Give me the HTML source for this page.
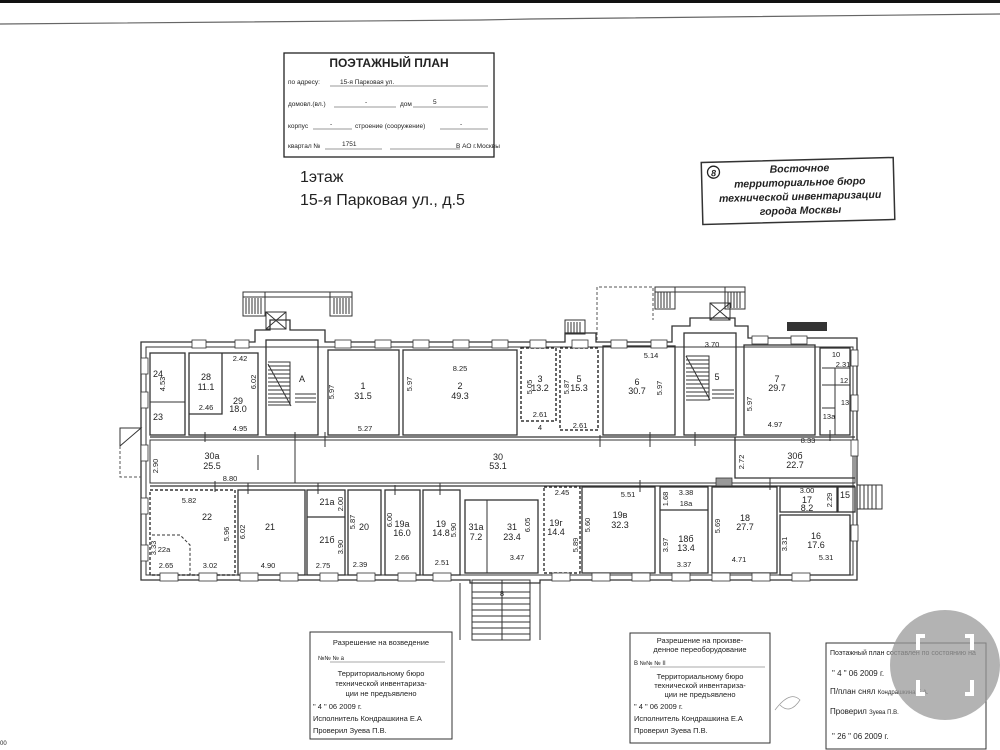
<!DOCTYPE html>
<html><head><meta charset="utf-8"><style>
html,body{margin:0;padding:0;background:#fff;width:1000px;height:750px;overflow:hidden}
svg{display:block}
text{font-family:"Liberation Sans",sans-serif;fill:#222}
.r{fill:none;stroke:#333;stroke-width:1.3}
.w{fill:none;stroke:#333;stroke-width:1}
.d{fill:none;stroke:#555;stroke-width:1;stroke-dasharray:3 2}
.n{font-size:9px;text-anchor:middle}
.s{font-size:7.5px;text-anchor:middle}
.st{font-size:7.5px}
</style></head><body>
<svg width="1000" height="750" viewBox="0 0 1000 750" xmlns="http://www.w3.org/2000/svg">
<rect x="0" y="0" width="1000" height="3" fill="#111"/>
<path d="M0 24 L480 20 L530 19 L1000 14" stroke="#666" stroke-width="1.2" fill="none"/>

<!-- header stamp -->
<rect x="284" y="53" width="210" height="104" fill="none" stroke="#222" stroke-width="1.3"/>
<text x="389" y="67" style="font-size:12px;text-anchor:middle;font-weight:bold">ПОЭТАЖНЫЙ ПЛАН</text>
<text x="288" y="84" class="st" style="font-size:6.5px">по адресу: <tspan x="340">15-я Парковая ул.</tspan></text>
<line x1="330" y1="86" x2="488" y2="86" stroke="#333" stroke-width=".6"/>
<text x="288" y="106" style="font-size:6.5px">домовл.(вл.)</text><text x="365" y="104" style="font-size:6.5px">-</text><text x="400" y="106" style="font-size:6.5px">дом</text><text x="433" y="104" style="font-size:6.5px">5</text>
<line x1="334" y1="107" x2="396" y2="107" stroke="#333" stroke-width=".6"/><line x1="413" y1="107" x2="488" y2="107" stroke="#333" stroke-width=".6"/>
<text x="288" y="128" style="font-size:6.5px">корпус</text><text x="330" y="126" style="font-size:6.5px">-</text><text x="355" y="128" style="font-size:6.5px">строение (сооружение)</text><text x="460" y="126" style="font-size:6.5px">-</text>
<line x1="313" y1="129" x2="352" y2="129" stroke="#333" stroke-width=".6"/><line x1="440" y1="129" x2="488" y2="129" stroke="#333" stroke-width=".6"/>
<text x="288" y="148" style="font-size:6.5px">квартал №</text><text x="342" y="146" style="font-size:6.5px">1751</text><text x="456" y="148" style="font-size:6.5px">В  АО г.Москвы</text>
<line x1="325" y1="149" x2="382" y2="149" stroke="#333" stroke-width=".6"/><line x1="390" y1="149" x2="460" y2="149" stroke="#333" stroke-width=".6"/>
<text x="300" y="182" style="font-size:16px">1этаж</text>
<text x="300" y="205" style="font-size:16px">15-я Парковая ул., д.5</text>

<!-- right stamp -->
<g transform="rotate(-1.5 797 190)">
<rect x="702" y="160" width="192" height="62" fill="none" stroke="#333" stroke-width="1.5"/>
<circle cx="714" cy="170" r="6" fill="none" stroke="#222" stroke-width="1.3"/>
<text x="714" y="174" style="font-size:9px;text-anchor:middle;font-weight:bold;font-style:italic">8</text>
<text x="800" y="172" style="font-size:10.5px;text-anchor:middle;font-weight:bold;font-style:italic">Восточное</text>
<text x="800" y="186" style="font-size:10.5px;text-anchor:middle;font-weight:bold;font-style:italic">территориальное бюро</text>
<text x="800" y="200" style="font-size:10.5px;text-anchor:middle;font-weight:bold;font-style:italic">технической инвентаризации</text>
<text x="800" y="214" style="font-size:10.5px;text-anchor:middle;font-weight:bold;font-style:italic">города Москвы</text>
</g>

<!-- building -->
<g>
<!-- outer walls -->
<path class="r" d="M141 342 H255 V330 H270 V320 H290 V330 H325 V342 H565 V333 H596 V342 H672 V326 H690 V318 H735 V326 H748 V338 H857 V580 H540 V583 H470 V580 H141 Z" stroke-width="1.6"/>
<path class="w" d="M146 347 H853 V575 H146 Z"/>
<!-- top stairs outside -->
<rect x="243" y="292" width="22" height="24" class="w"/><rect x="330" y="292" width="22" height="24" class="w"/>
<rect x="243" y="292" width="109" height="5" class="w"/>
<path class="w" d="M246 298 V314 M249 298 V314 M252 298 V314 M255 298 V314 M258 298 V314 M261 298 V314 M334 298 V314 M337 298 V314 M340 298 V314 M343 298 V314 M346 298 V314 M349 298 V314"/>
<rect x="266" y="312" width="20" height="17" class="w"/><path class="w" d="M266 312 L286 329 M286 312 L266 329"/>
<rect x="655" y="287" width="90" height="5" class="w"/>
<rect x="655" y="287" width="20" height="22" class="w"/><rect x="725" y="287" width="20" height="22" class="w"/>
<path class="w" d="M658 292 V308 M661 292 V308 M664 292 V308 M667 292 V308 M670 292 V308 M728 292 V308 M731 292 V308 M734 292 V308 M737 292 V308 M740 292 V308"/>
<rect x="710" y="303" width="20" height="17" class="w"/><path class="w" d="M710 303 L730 320 M730 303 L710 320"/>
<path class="d" d="M597 340 V287 H653 V320"/>
<rect x="565" y="320" width="20" height="14" class="w"/><path class="w" d="M568 322 V333 M571 322 V333 M574 322 V333 M577 322 V333 M580 322 V333"/>
<rect x="787" y="322" width="40" height="9" fill="#333"/>
<!-- left outside stair -->
<path class="w" d="M141 428 L120 446 V428 Z"/><path class="d" d="M120 446 V477 H141"/>
<!-- right outside stair -->
<rect x="857" y="485" width="25" height="24" class="w"/><path class="w" d="M860 485 V509 M864 485 V509 M868 485 V509 M872 485 V509 M876 485 V509"/>

<!-- top row rooms -->
<rect x="150" y="353" width="35" height="82" class="r"/><line x1="150" y1="402" x2="185" y2="402" class="w"/>
<rect x="189" y="353" width="69" height="82" class="r"/><path class="r" d="M222 353 V414 H189"/>
<rect x="266" y="340" width="52" height="95" class="r"/>
<path class="w" d="M268 362 H290 V405 H268 M268 366 H290 M268 370 H290 M268 374 H290 M268 378 H290 M268 382 H290 M268 386 H290 M268 390 H290 M268 394 H290 M268 398 H290 M268 402 H290 M268 364 L291 406 M295 394 H316 M295 398 H316 M295 402 H316"/>
<rect x="328" y="350" width="71" height="85" class="r"/>
<rect x="403" y="350" width="114" height="85" class="r"/>
<rect x="521" y="348" width="35" height="73" class="d" style="stroke:#333;stroke-width:1.5"/>
<rect x="560" y="348" width="38" height="82" class="d" style="stroke:#333;stroke-width:1.5"/>
<rect x="603" y="346" width="72" height="89" class="r"/>
<rect x="684" y="333" width="52" height="102" class="r"/>
<path class="w" d="M686 356 H709 V400 H686 M686 360 H709 M686 364 H709 M686 368 H709 M686 372 H709 M686 376 H709 M686 380 H709 M686 384 H709 M686 388 H709 M686 392 H709 M686 396 H709 M686 356 L710 400 M712 390 H734 M712 394 H734 M712 398 H734"/>
<rect x="744" y="345" width="71" height="90" class="r"/>
<rect x="820" y="348" width="30" height="87" class="r"/><path class="w" d="M822 368 H850 M835 368 V435 M822 385 H850 M822 408 H835"/>
<!-- corridor -->
<rect x="150" y="440" width="705" height="43" class="w"/>
<path class="r" d="M150 437 H855 M150 486 H855 M735 437 V478 H855"/>
<line x1="295" y1="442" x2="295" y2="483" class="w"/>
<!-- bottom row rooms -->
<rect x="150" y="490" width="85" height="85" class="d" style="stroke:#333;stroke-width:1.4"/>
<path class="d" d="M152 535 H180 L190 545 V575" style="stroke:#333"/>
<rect x="238" y="490" width="67" height="85" class="r"/>
<rect x="307" y="490" width="38" height="85" class="r"/><line x1="307" y1="517" x2="345" y2="517" class="r"/>
<rect x="348" y="490" width="33" height="85" class="r"/>
<rect x="385" y="490" width="35" height="85" class="r"/>
<rect x="423" y="490" width="37" height="85" class="r"/>
<rect x="465" y="500" width="73" height="73" class="r"/><line x1="487" y1="500" x2="487" y2="573" class="w"/>
<rect x="472" y="580" width="58" height="60" class="w"/>
<path class="w" d="M472 592 H530 M472 598 H530 M472 604 H530 M472 610 H530 M472 616 H530 M472 622 H530 M472 628 H530 M472 634 H530 M502 580 V640"/>
<path class="w" d="M460 583 V640 M540 583 V640"/>
<rect x="544" y="487" width="36" height="86" class="d" style="stroke:#333;stroke-width:1.4"/>
<rect x="582" y="487" width="73" height="86" class="r"/>
<rect x="660" y="487" width="48" height="86" class="r"/><line x1="660" y1="510" x2="708" y2="510" class="r"/>
<rect x="712" y="487" width="65" height="86" class="r"/>
<rect x="780" y="487" width="57" height="25" class="r"/>
<rect x="780" y="515" width="70" height="60" class="r"/>
<rect x="838" y="487" width="17" height="25" class="r"/>
<!-- windows -->
<g fill="#fff" stroke="#333" stroke-width=".8">
<rect x="192" y="340" width="14" height="8"/><rect x="235" y="340" width="14" height="8"/>
<rect x="335" y="340" width="16" height="8"/><rect x="375" y="340" width="16" height="8"/><rect x="413" y="340" width="16" height="8"/><rect x="453" y="340" width="16" height="8"/><rect x="492" y="340" width="16" height="8"/>
<rect x="530" y="340" width="16" height="8"/><rect x="572" y="340" width="16" height="8"/><rect x="611" y="340" width="16" height="8"/><rect x="651" y="340" width="16" height="8"/>
<rect x="752" y="336" width="16" height="8"/><rect x="791" y="336" width="16" height="8"/>
<rect x="160" y="573" width="18" height="8"/><rect x="199" y="573" width="18" height="8"/><rect x="240" y="573" width="18" height="8"/><rect x="280" y="573" width="18" height="8"/><rect x="320" y="573" width="18" height="8"/><rect x="357" y="573" width="18" height="8"/><rect x="398" y="573" width="18" height="8"/><rect x="433" y="573" width="18" height="8"/>
<rect x="552" y="573" width="18" height="8"/><rect x="592" y="573" width="18" height="8"/><rect x="632" y="573" width="18" height="8"/><rect x="672" y="573" width="18" height="8"/><rect x="712" y="573" width="18" height="8"/><rect x="752" y="573" width="18" height="8"/><rect x="792" y="573" width="18" height="8"/>
<rect x="141" y="358" width="7" height="16"/><rect x="141" y="392" width="7" height="16"/><rect x="141" y="445" width="7" height="16"/><rect x="141" y="498" width="7" height="16"/><rect x="141" y="545" width="7" height="16"/>
<rect x="851" y="350" width="7" height="16"/><rect x="851" y="395" width="7" height="16"/><rect x="851" y="440" width="7" height="16"/><rect x="851" y="525" width="7" height="16"/>
<rect x="716" y="478" width="16" height="8" fill="#999"/>
</g>
<!-- labels -->
<text class="n" x="158" y="377">24</text><text class="n" x="158" y="420">23</text>
<text class="n" x="206" y="380">28</text><text class="n" x="206" y="390">11.1</text><text class="n" x="238" y="404">29</text><text class="n" x="238" y="412">18.0</text>
<text class="s" x="240" y="361">2.42</text><text class="s" x="206" y="410">2.46</text><text class="s" x="240" y="431">4.95</text>
<text class="n" x="302" y="382">A</text>
<text class="n" x="363" y="389">1</text><text class="n" x="363" y="399">31.5</text><text class="s" x="365" y="431">5.27</text>
<text class="n" x="460" y="389">2</text><text class="n" x="460" y="399">49.3</text><text class="s" x="460" y="371">8.25</text>
<text class="n" x="540" y="382">3</text><text class="n" x="540" y="391">13.2</text><text class="s" x="540" y="417">2.61</text><text class="s" x="540" y="430">4</text>
<text class="n" x="579" y="382">5</text><text class="n" x="579" y="391">15.3</text><text class="s" x="580" y="428">2.61</text>
<text class="n" x="637" y="385">6</text><text class="n" x="637" y="394">30.7</text><text class="s" x="651" y="358">5.14</text>
<text class="s" x="712" y="347">3.70</text><text class="n" x="717" y="380">5</text>
<text class="n" x="777" y="382">7</text><text class="n" x="777" y="391">29.7</text><text class="s" x="775" y="427">4.97</text>
<text class="s" x="836" y="357">10</text><text class="s" x="843" y="367">2.31</text><text class="s" x="844" y="383">12</text><text class="s" x="845" y="405">13</text><text class="s" x="829" y="419">13a</text>
<text class="n" x="212" y="459">30a</text><text class="n" x="212" y="469">25.5</text><text class="s" x="230" y="481">8.80</text>
<text class="n" x="498" y="460">30</text><text class="n" x="498" y="469">53.1</text>
<text class="n" x="795" y="459">30б</text><text class="n" x="795" y="468">22.7</text><text class="s" x="808" y="443">8.33</text>
<text class="s" x="189" y="503">5.82</text><text class="n" x="207" y="520">22</text><text class="s" x="164" y="552">22a</text><text class="s" x="166" y="568">2.65</text><text class="s" x="210" y="568">3.02</text>
<text class="n" x="270" y="530">21</text><text class="s" x="268" y="568">4.90</text>
<text class="n" x="327" y="505">21a</text><text class="n" x="327" y="543">21б</text><text class="s" x="323" y="568">2.75</text>
<text class="n" x="364" y="530">20</text><text class="s" x="360" y="567">2.39</text>
<text class="n" x="402" y="527">19a</text><text class="n" x="402" y="536">16.0</text><text class="s" x="402" y="560">2.66</text>
<text class="n" x="441" y="527">19</text><text class="n" x="441" y="536">14.8</text><text class="s" x="442" y="565">2.51</text>
<text class="n" x="476" y="530">31a</text><text class="n" x="476" y="540">7.2</text><text class="n" x="512" y="530">31</text><text class="n" x="512" y="540">23.4</text><text class="s" x="517" y="560">3.47</text>
<text class="s" x="562" y="495">2.45</text><text class="n" x="556" y="526">19г</text><text class="n" x="556" y="535">14.4</text>
<text class="n" x="620" y="518">19в</text><text class="n" x="620" y="528">32.3</text><text class="s" x="628" y="497">5.51</text>
<text class="s" x="686" y="495">3.38</text><text class="s" x="686" y="506">18a</text><text class="n" x="686" y="542">18б</text><text class="n" x="686" y="551">13.4</text><text class="s" x="684" y="567">3.37</text>
<text class="n" x="745" y="521">18</text><text class="n" x="745" y="530">27.7</text><text class="s" x="739" y="562">4.71</text>
<text class="s" x="807" y="493">3.00</text><text class="n" x="807" y="503">17</text><text class="n" x="807" y="511">8.2</text><text class="n" x="845" y="498">15</text>
<text class="n" x="816" y="539">16</text><text class="n" x="816" y="548">17.6</text><text class="s" x="826" y="560">5.31</text>
<g class="s">
<text transform="translate(165 384) rotate(-90)">4.53</text><text transform="translate(256 382) rotate(-90)">6.02</text>
<text transform="translate(334 392) rotate(-90)">5.97</text><text transform="translate(412 384) rotate(-90)">5.97</text>
<text transform="translate(532 387) rotate(-90)">5.05</text><text transform="translate(569 387) rotate(-90)">5.87</text>
<text transform="translate(662 388) rotate(-90)">5.97</text><text transform="translate(752 404) rotate(-90)">5.97</text>
<text transform="translate(158 466) rotate(-90)">2.90</text><text transform="translate(744 462) rotate(-90)">2.72</text>
<text transform="translate(156 548) rotate(-90)">3.33</text><text transform="translate(229 534) rotate(-90)">5.96</text>
<text transform="translate(245 532) rotate(-90)">6.02</text><text transform="translate(343 504) rotate(-90)">2.00</text>
<text transform="translate(343 547) rotate(-90)">3.90</text><text transform="translate(355 522) rotate(-90)">5.87</text>
<text transform="translate(392 520) rotate(-90)">6.00</text><text transform="translate(456 530) rotate(-90)">5.90</text>
<text transform="translate(530 525) rotate(-90)">6.05</text><text transform="translate(578 545) rotate(-90)">5.89</text>
<text transform="translate(590 525) rotate(-90)">5.60</text><text transform="translate(668 499) rotate(-90)">1.68</text>
<text transform="translate(668 545) rotate(-90)">3.97</text><text transform="translate(720 526) rotate(-90)">5.69</text>
<text transform="translate(787 544) rotate(-90)">3.31</text><text transform="translate(832 500) rotate(-90)">2.29</text>
</g>
<text class="s" x="502" y="596">8</text>
<!-- door ticks -->
<path class="w" d="M205 432 V442 M258 455 V470 M215 481 V492 M295 432 V447 M325 432 V447 M248 483 V494 M395 485 V495 M440 483 V495 M600 435 V447 M650 432 V447 M695 432 V446 M830 430 V441 M318 483 V494 M640 480 V492 M770 478 V490"/>
</g>

<!-- bottom stamps -->
<g style="font-size:7.5px">
<rect x="310" y="632" width="142" height="107" fill="none" stroke="#333"/>
<text x="381" y="645" style="text-anchor:middle">Разрешение на возведение</text>
<text x="318" y="660" style="font-size:6px">№№ № а</text><line x1="330" y1="662" x2="445" y2="662" stroke="#555" stroke-width=".5"/>
<text x="381" y="676" style="text-anchor:middle">Территориальному бюро</text>
<text x="381" y="686" style="text-anchor:middle">технической инвентаризa-</text>
<text x="381" y="696" style="text-anchor:middle">ции не предъявлено</text>
<text x="313" y="709">" 4    " 06          2009    г.</text>
<text x="313" y="721">Исполнитель Кондрашкина Е.А</text>
<text x="313" y="733">Проверил Зуева П.В.</text>

<rect x="630" y="633" width="140" height="110" fill="none" stroke="#333"/>
<text x="700" y="643" style="text-anchor:middle">Разрешение на произве-</text>
<text x="700" y="652" style="text-anchor:middle">денное переоборудование</text>
<text x="634" y="665" style="font-size:6px">В №№ № II</text><line x1="650" y1="667" x2="765" y2="667" stroke="#555" stroke-width=".5"/>
<text x="700" y="679" style="text-anchor:middle">Территориальному бюро</text>
<text x="700" y="688" style="text-anchor:middle">технической инвентариза-</text>
<text x="700" y="697" style="text-anchor:middle">ции не предъявлено</text>
<text x="634" y="709">" 4    " 06          2009    г.</text>
<text x="634" y="721">Исполнитель Кондрашкина Е.А</text>
<text x="634" y="733">Проверил Зуева П.В.</text>
<path d="M775 710 Q790 690 800 700 Q790 715 780 705" stroke="#999" fill="none" stroke-width=".7"/>

<rect x="826" y="643" width="160" height="106" fill="none" stroke="#333"/>
<text x="830" y="655" style="font-size:7px">Поэтажный план составлен по состоянию на</text>
<text x="832" y="676" style="font-size:8px">"   4   "       06                  2009  г.</text>
<text x="830" y="694" style="font-size:8px">П/план снял <tspan style="font-size:6px">Кондрашкина Е.А.</tspan></text>
<text x="830" y="714" style="font-size:8px">Проверил <tspan style="font-size:6px">Зуева П.В.</tspan></text>
<text x="832" y="739" style="font-size:8px">"   26  "       06                  2009  г.</text>
</g>
<circle cx="945" cy="665" r="55" fill="#999" opacity=".75"/>
<path d="M925 636 H918 V650 M965 636 H972 V650 M918 680 V694 H925 M972 680 V694 H965" stroke="#fff" stroke-width="4" fill="none"/>
<text x="0" y="745" style="font-size:6px">00</text>
</svg>
</body></html>
